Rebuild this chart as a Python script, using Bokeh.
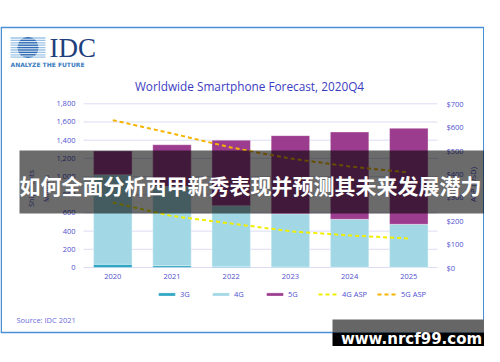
import math
import numpy as np
from bokeh.plotting import figure
from bokeh.models import (Range1d, LinearAxis, FixedTicker, NumeralTickFormatter,
                          ColumnDataSource, Legend, LegendItem)
from bokeh.core.properties import value
from bokeh.embed import file_html
from bokeh.resources import INLINE

# ---------------- data ----------------
years = ["2020", "2021", "2022", "2023", "2024", "2025"]
shipments_3g = [35, 20, 12, 6, 3, 2]
shipments_4g = [985, 870, 668, 584, 527, 473]
shipments_5g = [260, 460, 720, 860, 960, 1055]
asp_4g = [278, 220, 188, 155, 137, 124]
asp_5g = [630, 573, 513, 466, 432, 406]
shipment_ticks = [0, 200, 400, 600, 800, 1000, 1200, 1400, 1600, 1800]
asp_ticks = [0, 100, 200, 300, 400, 500, 600, 700]
series_labels = ["3G", "4G", "5G", "4G ASP", "5G ASP"]

chart_title = "Worldwide Smartphone Forecast, 2020Q4"
left_title = ["Shipments", "Millions"]
right_title = "ASP (USD)"
source_note = "Source: IDC 2021"
banner_text = "如何全面分析西甲新秀表现并预测其未来发展潜力"
watermark_text = "www.nrcf99.com"

# ---------------- geometry (reference pixels) ----------------
W, H = 484, 346

PLOT_L, PLOT_R = 83, 437
X0_PX, X_STEP = 112.3, 59.2
BASE_PX, TOP_PX = 267.0, 103.3

idx = list(range(len(years)))


def xval(px):
    return (px - X0_PX) / X_STEP


x_start = -X0_PX / X_STEP
x_end = (W - X0_PX) / X_STEP

k_ship = (BASE_PX - TOP_PX) / shipment_ticks[-1]
k_asp = (BASE_PX - TOP_PX) / asp_ticks[-1]

p = figure(width=W, height=H, output_backend="svg", toolbar_location=None,
           x_range=Range1d(x_start, x_end),
           y_range=Range1d(-(H - BASE_PX) / k_ship, BASE_PX / k_ship),
           x_axis_type=None, y_axis_type=None, min_border=0,
           outline_line_color=None, background_fill_color="white",
           border_fill_color="white")
p.extra_y_ranges = {"asp": Range1d(-(H - BASE_PX) / k_asp, BASE_PX / k_asp),
                    "py": Range1d(H, 0)}
p.extra_x_ranges = {"px": Range1d(0, W)}

TICK_COLOR = "#4f4fd0"
FONT = "Open Sans"


def px_text(x, y, txt, size, color, font=FONT, style="normal", align="left",
            baseline="middle", angle=0.0, level="glyph"):
    return p.text(x=[x], y=[y], text=[txt], x_range_name="px", y_range_name="py",
                  text_font=value(font), text_font_size=size, text_font_style=style,
                  text_color=color, text_align=align, text_baseline=baseline,
                  angle=angle, level=level)


# ---------------- frame border ----------------
BORDER = "#4a8fd2"
p.segment(x0=[0, 0, 0.75, W - 0.75], x1=[W, W, 0.75, W - 0.75],
          y0=[27, 332, 27, 27], y1=[27, 332, 332, 332],
          x_range_name="px", y_range_name="py", line_color=BORDER, line_width=1.5)

# ---------------- IDC logo ----------------
lc_x, lc_y, lr = 27.5, 47.0, 10.5
stripe_y = np.arange(37.5, 57.5, 2.4)
p.segment(x0=[10] * len(stripe_y), x1=[45] * len(stripe_y),
          y0=list(stripe_y), y1=list(stripe_y),
          x_range_name="px", y_range_name="py", line_color="#9cc3e6", line_width=1.3)
p.circle(x=[lc_x], y=[lc_y], radius=lr, x_range_name="px", y_range_name="py",
         fill_color="#2e6db4", line_color=None)
half = [math.sqrt(max(lr ** 2 - (v + 1.2 - lc_y) ** 2, 0)) for v in stripe_y]
p.segment(x0=[lc_x - h for h in half], x1=[lc_x + h for h in half],
          y0=[v + 1.2 for v in stripe_y], y1=[v + 1.2 for v in stripe_y],
          x_range_name="px", y_range_name="py", line_color="white", line_width=0.9)
px_text(49, 47, "IDC", "27px", "#1e3f7c", font="Liberation Serif")
px_text(10, 64, "ANALYZE THE FUTURE", "6px", "#3a7cc0", font="DejaVu Sans", style="bold")

# ---------------- titles ----------------
px_text(249, 85, chart_title, "11.8px", "#3c3cc2", align="center")
px_text(30, 188, left_title[0], "7.5px", TICK_COLOR, align="center", angle=math.pi / 2)
px_text(45, 188, left_title[1], "7.5px", TICK_COLOR, align="center", angle=math.pi / 2)
px_text(472, 184, right_title, "7.5px", TICK_COLOR, align="center", angle=math.pi / 2)
px_text(16, 319, source_note, "7.5px", "#6b6bdc")

# ---------------- grid lines ----------------
p.segment(x0=[xval(PLOT_L)] * len(shipment_ticks), x1=[xval(PLOT_R)] * len(shipment_ticks),
          y0=shipment_ticks, y1=shipment_ticks, line_color="#dcdcf4", line_width=1)

# ---------------- bars ----------------
src = ColumnDataSource(dict(x=idx, g3=shipments_3g, g4=shipments_4g, g5=shipments_5g))
bars = p.vbar_stack(["g3", "g4", "g5"], x="x", width=0.65, source=src,
                    fill_color=["#2fa6c3", "#a2d8e5", "#9c3c8e"],
                    line_color="#ffffff", line_alpha=0.35, line_width=1)

# ---------------- ASP lines ----------------
l4 = p.line(x=idx, y=asp_4g, y_range_name="asp", line_color="#f2ee00", line_width=2,
            line_dash="4 3")
l5 = p.line(x=idx, y=asp_5g, y_range_name="asp", line_color="#f5b400", line_width=2,
            line_dash="4 3")

# ---------------- axes ----------------
def style_axis(ax, standoff):
    ax.axis_line_color = None
    ax.major_tick_line_color = None
    ax.minor_tick_line_color = None
    ax.major_tick_in = 0
    ax.major_tick_out = 0
    ax.major_label_standoff = standoff
    ax.major_label_text_font = FONT
    ax.major_label_text_font_size = "7.5px"
    ax.major_label_text_color = TICK_COLOR


left_axis = LinearAxis(ticker=FixedTicker(ticks=shipment_ticks),
                       formatter=NumeralTickFormatter(format="0,0"),
                       fixed_location=xval(PLOT_L))
style_axis(left_axis, 8)
p.add_layout(left_axis, "left")

right_axis = LinearAxis(y_range_name="asp", ticker=FixedTicker(ticks=asp_ticks),
                        formatter=NumeralTickFormatter(format="$0,0"),
                        fixed_location=xval(PLOT_R))
style_axis(right_axis, 9)
p.add_layout(right_axis, "right")

bottom_axis = LinearAxis(ticker=FixedTicker(ticks=idx),
                         major_label_overrides={i: y for i, y in zip(idx, years)},
                         fixed_location=0)
style_axis(bottom_axis, 6)
p.add_layout(bottom_axis, "below")

# ---------------- legend ----------------
legend = Legend(items=[LegendItem(label=series_labels[0], renderers=[bars[0]]),
                       LegendItem(label=series_labels[1], renderers=[bars[1]]),
                       LegendItem(label=series_labels[2], renderers=[bars[2]]),
                       LegendItem(label=series_labels[3], renderers=[l4]),
                       LegendItem(label=series_labels[4], renderers=[l5])],
                orientation="horizontal", location=(156, H - 299),
                background_fill_alpha=0, border_line_color=None, padding=0, margin=0,
                spacing=10, glyph_width=21, glyph_height=4, label_standoff=3,
                label_height=9, label_text_font=FONT, label_text_font_size="7.5px",
                label_text_color=TICK_COLOR)
p.add_layout(legend)

# ---------------- banner overlay ----------------
p.quad(left=[19], right=[485], top=[150], bottom=[213],
       x_range_name="px", y_range_name="py", fill_color="black", fill_alpha=0.58,
       line_color=None, level="overlay")
px_text(250, 184, banner_text, "21px", "white", font="Noto Sans CJK SC", style="bold",
        align="center", level="overlay")

# ---------------- watermark ----------------
p.quad(left=[332], right=[491], top=[319], bottom=[332],
       x_range_name="px", y_range_name="py", fill_color="#666666", line_color=None,
       level="overlay")
p.quad(left=[332], right=[491], top=[332], bottom=[353],
       x_range_name="px", y_range_name="py", fill_color="black", line_color=None,
       level="overlay")
px_text(411, 338, watermark_text, "15px", "white", font="DejaVu Sans", style="bold",
        align="center", level="overlay")

open("out.html", "w").write(file_html(p, INLINE))
